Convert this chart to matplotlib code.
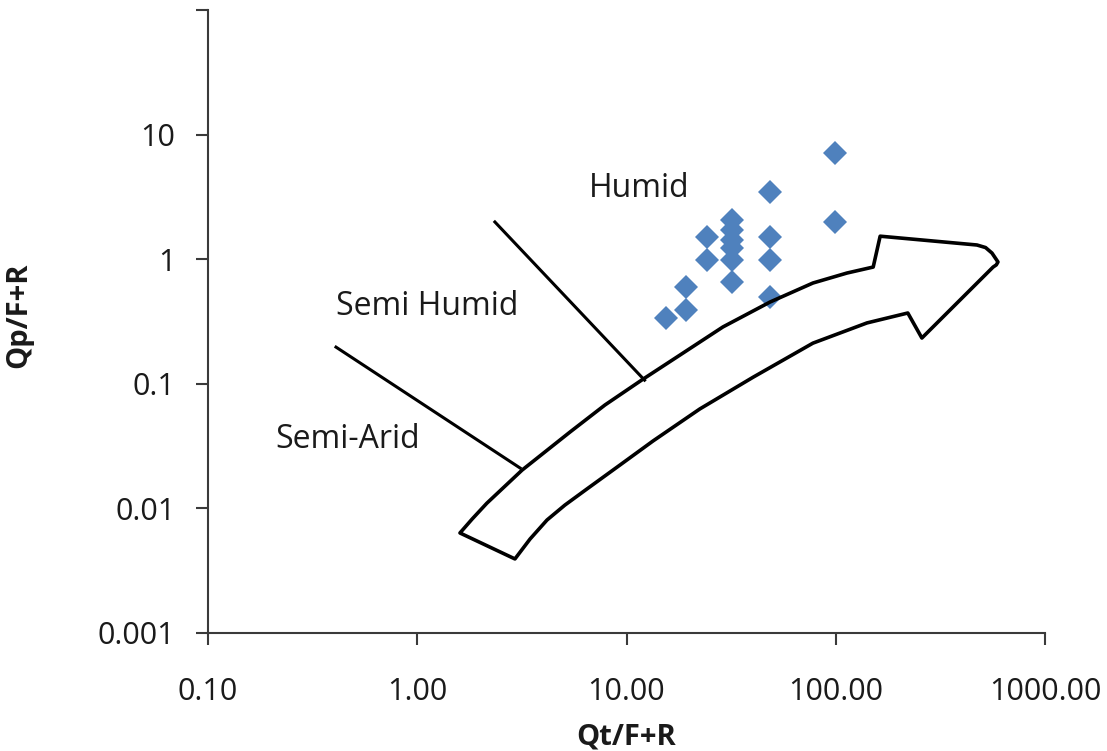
import matplotlib
matplotlib.use('Agg')
import matplotlib.pyplot as plt
from matplotlib.patches import Polygon
from matplotlib.ticker import FixedLocator, FixedFormatter, NullLocator

plt.rcParams['font.family'] = ['Open Sans', 'DejaVu Sans']

# 样本点 (Qt/F+R, Qp/F+R)
qt = [99, 99, 48.5, 48.5, 48.5, 48.5,
      31.9, 31.9, 31.9, 31.9, 31.9, 31.9,
      24.3, 24.3, 19.2, 19.2, 15.5]
qp = [7.1, 2.0, 3.46, 1.51, 0.99, 0.50,
      2.07, 1.71, 1.43, 1.23, 0.99, 0.66,
      1.51, 0.99, 0.60, 0.39, 0.34]

# 坐标轴刻度
x_ticks = [0.1, 1, 10, 100, 1000]
x_labels = ['0.10', '1.00', '10.00', '100.00', '1000.00']
y_ticks = [0.001, 0.01, 0.1, 1, 10, 100]
y_labels = ['0.001', '0.01', '0.1', '1', '10', '']

# 区域分界线 (数据坐标)
humid_line_x = [2.35, 12.2]
humid_line_y = [1.99, 0.107]
arid_line_x = [0.409, 3.10]
arid_line_y = [0.197, 0.0211]

# 弯曲箭头轮廓 (数据坐标): 上沿 -> 箭头 -> 下沿
arrow_x = [1.60, 1.83, 2.15, 3.17, 5.37, 7.89, 12.0, 18.0, 28.9, 48.5, 77.8, 113, 151,
           163, 473, 520, 558, 596, 585, 565, 258, 221,
           141, 77.8, 40.3, 22.4, 13.4, 9.31, 6.47, 5.08, 4.17, 3.46, 2.93]
arrow_y = [0.00635, 0.00822, 0.0110, 0.0203, 0.0410, 0.0676, 0.109, 0.170, 0.286, 0.453,
           0.644, 0.774, 0.865,
           1.53, 1.30, 1.24, 1.12, 0.95, 0.90, 0.865, 0.233, 0.370,
           0.308, 0.212, 0.113, 0.0628, 0.0348, 0.0223, 0.01432, 0.01064, 0.00807,
           0.00568, 0.00393]

# 区域标注
zone_names = ['Humid', 'Semi Humid', 'Semi-Arid']
zone_x = [11.5, 1.11, 0.467]
zone_y = [3.72, 0.42, 0.0354]

fig = plt.figure(figsize=(11.07, 7.51), dpi=100)
ax = fig.add_axes([208 / 1107, 118 / 751, 837 / 1107, 623 / 751])
ax.set_xscale('log')
ax.set_yscale('log')
ax.set_xlim(0.1, 1000)
ax.set_ylim(0.001, 100)

ax.plot(qt, qp, linestyle='none', marker='D', markersize=12.5,
        color='#4F81BD', markeredgewidth=0, zorder=2)

ax.plot(humid_line_x, humid_line_y, color='black', lw=2.2, zorder=3)
ax.plot(arid_line_x, arid_line_y, color='black', lw=2.2, zorder=3)
arrow = Polygon(list(zip(arrow_x, arrow_y)), closed=True, facecolor='none',
                edgecolor='black', lw=2.6, joinstyle='round', zorder=4)
ax.add_patch(arrow)

for name, x, y in zip(zone_names, zone_x, zone_y):
    ax.text(x, y, name, fontsize=23, ha='center', va='center', color='#1a1a1a')

for s in ['top', 'right']:
    ax.spines[s].set_visible(False)
for s in ['left', 'bottom']:
    ax.spines[s].set_color('#3a3a3a')
    ax.spines[s].set_linewidth(1.5)

ax.xaxis.set_major_locator(FixedLocator(x_ticks))
ax.xaxis.set_major_formatter(FixedFormatter(x_labels))
ax.xaxis.set_minor_locator(NullLocator())
ax.yaxis.set_major_locator(FixedLocator(y_ticks))
ax.yaxis.set_major_formatter(FixedFormatter(y_labels))
ax.yaxis.set_minor_locator(NullLocator())
ax.tick_params(axis='x', direction='out', length=8.5, width=1.5, color='#3a3a3a',
               labelsize=22, pad=23, labelcolor='#1a1a1a')
ax.tick_params(axis='y', direction='out', length=8.5, width=1.5, color='#3a3a3a',
               labelsize=22, pad=15, labelcolor='#1a1a1a')

ax.set_xlabel('Qt/F+R', fontsize=21, fontweight='bold', color='#1a1a1a')
ax.set_ylabel('Qp/F+R', fontsize=21, fontweight='bold', color='#1a1a1a')
ax.xaxis.set_label_coords(0.5, -0.143)
ax.yaxis.set_label_coords(-0.209, 0.51)

fig.savefig('out.png', dpi=100)
plt.close(fig)
